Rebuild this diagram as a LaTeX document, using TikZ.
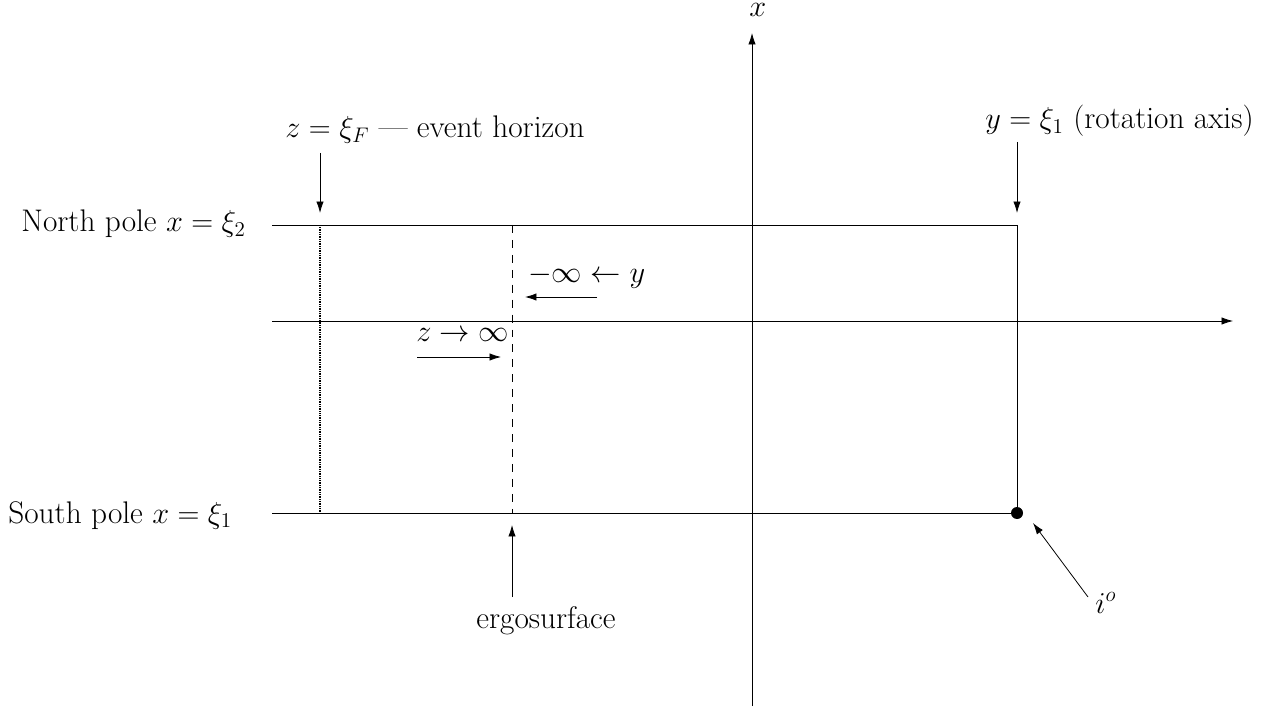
\documentclass[tikz,border=0pt]{standalone}
\usetikzlibrary{arrows.meta}
\begin{document}
\begin{tikzpicture}[x=0.02cm,y=-0.02cm,
  line width=0.45pt,
  lbl/.style={anchor=base west,inner sep=0pt,font=\fontsize{17.8}{21}\selectfont},
  arr/.style={-{Latex[length=6.5pt,width=4.2pt]}},
  dotline/.style={dash pattern=on 0.5pt off 0.5pt},
  dashline/.style={dash pattern=on 4.5pt off 4pt}]
\useasboundingbox (0,0) rectangle (1287,709);
% axes
\coordinate (vb) at (752,706);
\coordinate (vt) at (752,33);
\coordinate (hl) at (272,321);
\coordinate (hr) at (1233,321);
\draw[arr] (vb) -- (vt);
\draw[arr] (hl) -- (hr);
\node[lbl] (xlab) at (749,17) {$x$};
% box
\coordinate (nw) at (272,225);
\coordinate (ne) at (1017,225);
\coordinate (sw) at (272,513);
\coordinate (se) at (1017,513);
\draw (nw) -- (ne) -- (se);
\draw (sw) -- (se);
\fill (se) circle (6);
% horizon and ergosurface
\coordinate (dt) at (320,225);
\coordinate (db) at (320,513);
\coordinate (et) at (512,225);
\coordinate (eb) at (512,513);
\draw[dotline,line width=0.6pt] (dt) -- (db);
\draw[dashline] (et) -- (eb);
% labels
\node[lbl] (north) at (21,232) {North pole $x=\xi_2$};
\node[lbl] (south) at (8,523) {South pole $x=\xi_1$};
\node[lbl] (evh) at (285,138) {$z=\xi_F$ --- event horizon};
\node[lbl] (rot) at (985,129) {$y=\xi_1$ (rotation axis)};
\node[lbl] (yinf) at (528,283) {$-\infty\leftarrow y$};
\node[lbl] (zinf) at (416,341) {$z\rightarrow\infty$};
\node[lbl] (ergo) at (476,628) {ergosurface};
\node[lbl] (io) at (1095,613) {$i^o$};
% pointer arrows
\coordinate (a1s) at (320,153); \coordinate (a1e) at (320,213);
\draw[arr] (a1s) -- (a1e);
\coordinate (a2s) at (1017,142); \coordinate (a2e) at (1017,213);
\draw[arr] (a2s) -- (a2e);
\coordinate (a3s) at (597,297); \coordinate (a3e) at (525,297);
\draw[arr] (a3s) -- (a3e);
\coordinate (a4s) at (417,357); \coordinate (a4e) at (501,357);
\draw[arr] (a4s) -- (a4e);
\coordinate (a5s) at (512,597); \coordinate (a5e) at (512,525);
\draw[arr] (a5s) -- (a5e);
\coordinate (a6s) at (1088,597); \coordinate (a6e) at (1033,523);
\draw[arr] (a6s) -- (a6e);
\end{tikzpicture}
\end{document}
